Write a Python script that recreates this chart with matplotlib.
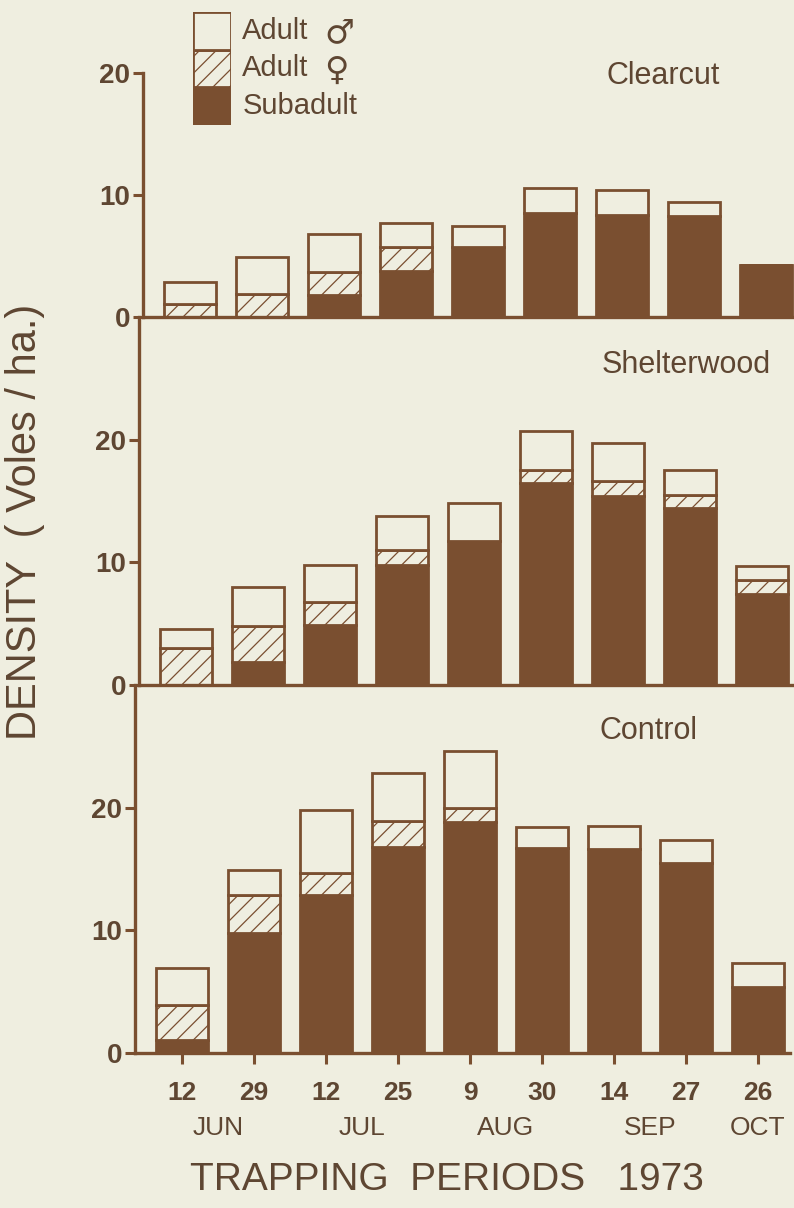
"vole density - three stands, stacked by age/sex class"
import numpy as np
import matplotlib.pyplot as plt

"data read off the figure (voles/ha)"
dates = ['12', '29', '12', '25', '9', '30', '14', '27', '26']
months = ['JUN', 'JUN', 'JUL', 'JUL', 'AUG', 'AUG', 'SEP', 'SEP', 'OCT']
stands = ['Clearcut', 'Shelterwood', 'Control']

clear_sub = [0, 0, 1.8, 3.8, 5.7, 8.5, 8.4, 8.3, 4.3]
clear_fem = [1.1, 1.9, 1.9, 1.9, 0, 0, 0, 0, 0]
clear_male = [1.8, 3.0, 3.1, 2.0, 1.8, 2.1, 2.0, 1.1, 0]

shelt_sub = [0, 1.9, 4.9, 9.8, 11.7, 16.5, 15.4, 14.4, 7.4]
shelt_fem = [3.0, 2.95, 1.9, 1.2, 0, 1.0, 1.2, 1.1, 1.2]
shelt_male = [1.6, 3.15, 3.0, 2.8, 3.1, 3.2, 3.1, 2.0, 1.1]

ctrl_sub = [1.05, 9.8, 12.9, 16.8, 18.8, 16.7, 16.6, 15.5, 5.4]
ctrl_fem = [2.85, 3.1, 1.8, 2.1, 1.2, 0, 0, 0, 0]
ctrl_male = [3.0, 2.0, 5.1, 3.9, 4.6, 1.7, 1.9, 1.9, 1.9]

legend_labels = ['Subadult', 'Adult', 'Adult']
legend_signs = ['', '\u2640', '\u2642']

"style"
paper = '#efeee0'
brown = '#7a4f30'
ink = '#5e4632'
plt.rcParams['font.family'] = ['Liberation Sans', 'DejaVu Sans']
plt.rcParams['hatch.linewidth'] = 0.9
plt.rcParams['hatch.color'] = brown
lw = 2.0

fig = plt.figure(figsize=(7.94, 12.08), dpi=100, facecolor=paper)
W, H = 794.0, 1208.0

# axes boxes in pixels (left, top, bottom) - the scan is slightly skewed
boxes = [(143, 73, 317), (139, 317, 685), (135, 685, 1053)]
ylims = [20, 30, 30]
xlo, xhi = -0.653, 8.45
axw = (xhi - xlo) * 72 / W

x = np.arange(len(dates))
data = [(clear_sub, clear_fem, clear_male),
        (shelt_sub, shelt_fem, shelt_male),
        (ctrl_sub, ctrl_fem, ctrl_male)]
title_pos = [(0.794, 0.988), (0.835, 0.870), (0.783, 0.875)]

axes = []
for i, (left, top, bot) in enumerate(boxes):
    ax = fig.add_axes([left / W, 1 - bot / H, axw, (bot - top) / H])
    ax.set_facecolor('none')
    sub, fem, male = [np.array(a, dtype=float) for a in data[i]]
    ax.bar(x, sub, width=0.72, color=brown, edgecolor=brown, linewidth=lw)
    ax.bar(x, fem, width=0.72, bottom=sub, facecolor=paper, edgecolor=brown,
           hatch='//', linewidth=lw)
    ax.bar(x, male, width=0.72, bottom=sub + fem, facecolor=paper,
           edgecolor=brown, linewidth=lw)
    ax.set_xlim(xlo, xhi)
    ax.set_ylim(0, ylims[i])
    ax.set_yticks([0, 10, 20])
    ax.set_yticklabels(['0', '10', '20'], fontsize=20, fontweight='bold', color=ink)
    ax.tick_params(axis='y', length=7, width=2.2, color=brown, pad=2)
    for s in ['top', 'right']:
        ax.spines[s].set_visible(False)
    for s in ['left', 'bottom']:
        ax.spines[s].set_color(brown)
        ax.spines[s].set_linewidth(2.4)
    ax.text(title_pos[i][0], title_pos[i][1], stands[i], transform=ax.transAxes,
            ha='center', va='center', fontsize=22, color=ink)
    if i < 2:
        ax.set_xticks([])
    axes.append(ax)

ax3 = axes[2]
ax3.set_xticks(x)
ax3.set_xticklabels(dates, fontsize=19, fontweight='bold', color=ink)
ax3.tick_params(axis='x', length=8, width=2.2, color=brown, pad=12)

"month names centred under their trapping dates"
for m in dict.fromkeys(months):
    xm = np.mean([j for j, mm in enumerate(months) if mm == m])
    ax3.text(xm, -0.204, m, transform=ax3.get_xaxis_transform(),
             ha='center', va='center', fontsize=19, color=ink)

fig.text(447 / W, 1 - 1180 / H, 'TRAPPING  PERIODS   1973', ha='center',
         va='center', fontsize=28, color=ink)
fig.text(25 / W, 1 - 522 / H, 'DENSITY  ( Voles / ha.)', ha='center', va='center',
         rotation=90, fontsize=30, color=ink)

"legend key drawn as one stacked bar"
lax = fig.add_axes([193 / W, 1 - 125 / H, 38 / W, 113 / H])
lax.set_facecolor('none')
lax.bar([0], [1], width=1, color=brown, edgecolor=brown, linewidth=lw)
lax.bar([0], [1], width=1, bottom=[1], facecolor=paper, edgecolor=brown,
        hatch='//', linewidth=lw)
lax.bar([0], [1], width=1, bottom=[2], facecolor=paper, edgecolor=brown,
        linewidth=lw)
lax.set_xlim(-0.5, 0.5)
lax.set_ylim(0, 3)
lax.axis('off')
for k, lab in enumerate(legend_labels):
    lax.text(1.3, k + 0.5, lab, transform=lax.get_yaxis_transform(),
             ha='left', va='center', fontsize=21, color=ink)
    if legend_signs[k]:
        lax.text(3.45, k + 0.45, legend_signs[k], transform=lax.get_yaxis_transform(),
                 ha='left', va='center', fontsize=24, color=ink,
                 family='DejaVu Sans', fontweight='bold')

fig.savefig('out.png', dpi=100, facecolor=paper)
